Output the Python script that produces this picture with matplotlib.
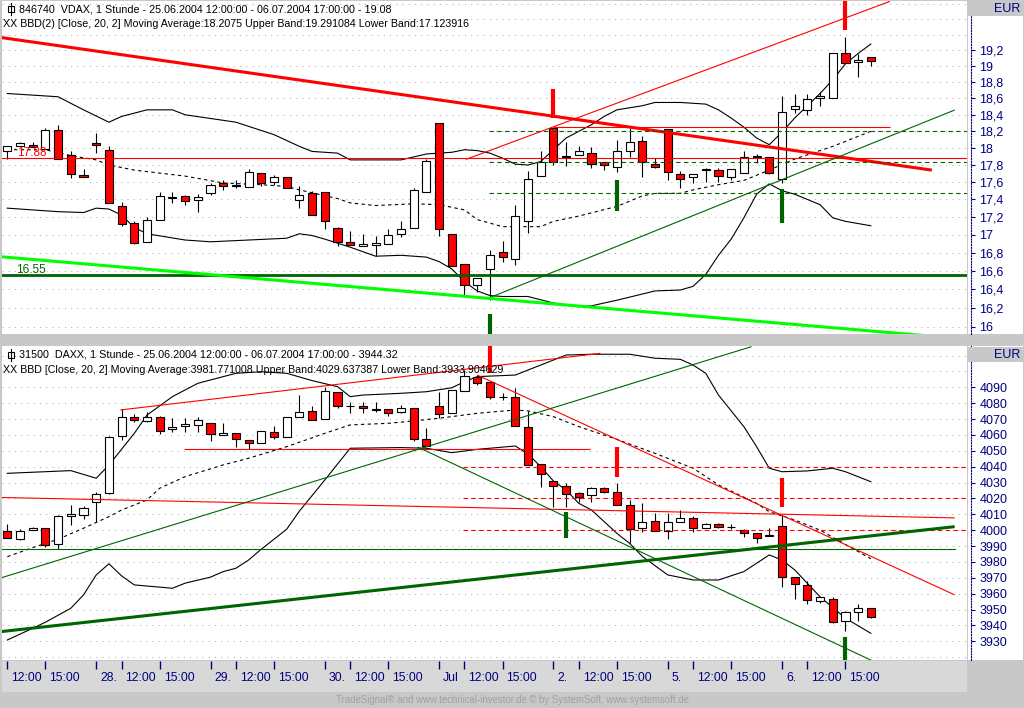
import numpy as np
import matplotlib.pyplot as plt
import matplotlib.transforms as mtransforms
from matplotlib.lines import Line2D
from matplotlib.patches import Rectangle
from matplotlib.ticker import NullLocator, NullFormatter

plt.rcParams['font.family'] = ['Liberation Sans', 'DejaVu Sans']

W, H = 1024, 708
NAVY = '#000080'
RED = '#ff0000'
DKGREEN = '#006400'
LIME = '#00ff00'

# ---- VDAX, hourly bars 25.06.2004 12:00 .. 06.07.2004 17:00 (69 bars)
vdax_open = [17.96, 18.03, 18.04, 17.99, 18.22, 17.92, 17.68, 18.06, 17.98, 17.33,
             17.13, 16.92, 17.16, 17.42, 17.44, 17.39, 17.47, 17.59, 17.56, 17.54,
             17.71, 17.60, 17.66, 17.39, 17.47, 17.48, 17.07, 16.92, 16.87, 16.88,
             16.89, 17.01, 17.07, 17.48, 18.30, 17.01, 16.67, 16.44, 16.62, 16.81,
             16.73, 17.15, 17.67, 18.24, 17.89, 17.92, 17.94, 17.83, 17.78, 17.96,
             18.09, 17.81, 18.23, 17.69, 17.66, 17.74, 17.74, 17.66, 17.71, 17.90,
             17.90, 17.64, 18.47, 18.46, 18.60, 18.60, 19.17, 19.05, 19.12]
vdax_high = [18.03, 18.07, 18.07, 18.24, 18.28, 17.96, 17.75, 18.18, 18.03, 17.37,
             17.15, 17.20, 17.49, 17.48, 17.45, 17.46, 17.59, 17.62, 17.62, 17.75,
             17.71, 17.68, 17.66, 17.55, 17.50, 17.48, 17.09, 17.04, 17.01, 16.98,
             17.06, 17.15, 17.53, 17.87, 18.30, 17.01, 16.67, 16.52, 16.83, 16.93,
             17.34, 17.73, 17.96, 18.24, 18.07, 18.03, 18.01, 17.83, 18.10, 18.24,
             18.14, 17.88, 18.23, 17.73, 17.69, 17.76, 17.76, 17.75, 17.96, 17.93,
             17.90, 18.63, 18.66, 18.65, 18.68, 19.17, 19.37, 19.15, 19.12]
vdax_low = [17.87, 18.03, 18.01, 17.99, 17.87, 17.65, 17.66, 17.94, 17.36, 17.10,
            16.89, 16.92, 17.16, 17.36, 17.34, 17.26, 17.45, 17.51, 17.53, 17.54,
            17.56, 17.57, 17.53, 17.30, 17.22, 17.06, 16.87, 16.88, 16.87, 16.76,
            16.89, 16.97, 17.07, 17.48, 16.98, 16.65, 16.34, 16.37, 16.28, 16.70,
            16.66, 17.02, 17.67, 17.80, 17.79, 17.92, 17.77, 17.74, 17.72, 17.90,
            17.66, 17.76, 17.62, 17.53, 17.59, 17.60, 17.60, 17.62, 17.71, 17.82,
            17.69, 17.59, 18.42, 18.40, 18.51, 18.60, 19.04, 18.87, 19.00]
vdax_close = [18.03, 18.06, 18.01, 18.21, 17.87, 17.69, 17.66, 18.04, 17.36, 17.12,
              16.91, 17.17, 17.44, 17.43, 17.38, 17.43, 17.57, 17.55, 17.57, 17.72,
              17.59, 17.66, 17.53, 17.45, 17.22, 17.15, 16.92, 16.88, 16.90, 16.91,
              17.00, 17.06, 17.51, 17.85, 17.06, 16.65, 16.44, 16.52, 16.77, 16.75,
              17.21, 17.64, 17.84, 17.83, 17.905, 17.96, 17.81, 17.80, 17.97, 18.07,
              17.84, 17.78, 17.72, 17.64, 17.69, 17.75, 17.67, 17.75, 17.90, 17.91,
              17.71, 18.43, 18.51, 18.59, 18.63, 19.17, 19.04, 19.08, 19.07]

# Bollinger bands (Close, 20, 2): bar index / value
vdax_upper_bar = [0, 4, 6, 8, 9, 11, 13, 14, 18, 19, 21, 23, 24, 26, 27, 31, 33, 35, 36, 37,
                  38, 39, 40, 41, 42, 43, 44, 46, 47, 48, 50, 51, 53, 55, 56, 57, 58, 59, 60, 61,
                  62, 63, 64, 65, 66, 67, 68]
vdax_upper = [18.66, 18.62, 18.46, 18.31, 18.38, 18.46, 18.46, 18.40, 18.31, 18.26,
              18.16, 18.02, 17.96, 17.94, 17.86, 17.86, 17.93, 17.95, 17.98, 17.97,
              17.94, 17.88, 17.81, 17.80, 17.84, 17.98, 18.12, 18.28, 18.38, 18.46,
              18.51, 18.55, 18.55, 18.53, 18.46, 18.36, 18.25, 18.12, 18.04, 18.19,
              18.36, 18.51, 18.66, 18.83, 19.03, 19.16, 19.28]
vdax_mid_bar = [0, 3, 5, 7, 8, 10, 14, 17, 20, 22, 23, 26, 27, 29, 32, 34, 36, 37, 39, 42,
                43, 45, 48, 50, 51, 53, 54, 56, 58, 60, 62, 65, 68]
vdax_mid = [17.98, 17.98, 17.91, 17.86, 17.80, 17.74, 17.67, 17.59, 17.57, 17.55,
            17.51, 17.41, 17.36, 17.33, 17.35, 17.34, 17.28, 17.17, 17.09, 17.09,
            17.15, 17.21, 17.32, 17.44, 17.47, 17.47, 17.51, 17.57, 17.62, 17.74,
            17.87, 18.02, 18.20]
vdax_lower_bar = [0, 4, 6, 7, 8, 9, 10, 11, 14, 16, 19, 22, 23, 24, 25, 27, 29, 31, 33, 34,
                  35, 36, 37, 38, 39, 41, 43, 45, 46, 48, 51, 53, 54, 55, 56, 57, 58, 59, 60, 61,
                  62, 64, 65, 66, 68]
vdax_lower = [17.30, 17.26, 17.25, 17.30, 17.29, 17.22, 17.08, 17.01, 16.94, 16.92,
              16.94, 16.96, 17.01, 16.99, 16.95, 16.86, 16.76, 16.77, 16.75, 16.70,
              16.62, 16.48, 16.38, 16.33, 16.32, 16.32, 16.25, 16.21, 16.22, 16.28,
              16.38, 16.39, 16.43, 16.56, 16.77, 16.95, 17.19, 17.46, 17.58, 17.50,
              17.46, 17.34, 17.19, 17.15, 17.10]

# hand drawn lines on the VDAX panel: [bar0, value0, bar1, value1]
vdax_red_trend = [-0.6, 19.365, 72.8, 17.74]
vdax_red_channel = [36.1, 17.865, 69.5, 19.83]
vdax_red_resist = [43, 18.25, 69.5, 18.25]
vdax_red_level = 17.88
vdax_green_dashed = [18.20, 17.83, 17.47]
vdax_green_trend = [37.85, 16.30, 74.6, 18.458]
vdax_support = 16.55
vdax_lime_trend = [-0.6, 16.755, 72.65, 15.90]
vdax_red_marks = [(43, 18.36, 18.72), (66, 19.46, 19.95)]
vdax_green_marks = [(38, 15.85, 16.13), (48, 17.27, 17.63), (61, 17.13, 17.52)]

# ---- DAXX, same bars
daxx_open = [3999.5, 3994.4, 3999.9, 4001.2, 3991.1, 4009.0, 4009.8, 4017.6, 4023.6, 4059.5,
             4071.5, 4069.0, 4071.1, 4063.5, 4065.7, 4066.3, 4067.3, 4060.0, 4061.0, 4056.8,
             4054.7, 4061.7, 4058.9, 4071.1, 4075.1, 4069.8, 4087.2, 4078.0, 4078.2, 4075.9,
             4076.3, 4074.3, 4076.8, 4057.2, 4078.2, 4074.0, 4087.7, 4096.3, 4093.1, 4083.7,
             4083.7, 4064.8, 4041.5, 4031.0, 4028.0, 4023.2, 4022.2, 4026.6, 4024.2, 4015.9,
             4001.2, 4006.0, 3999.5, 4005.0, 4007.5, 4001.2, 4003.7, 4001.9, 3999.9, 3998.0,
             3996.6, 4002.6, 3970.7, 3965.5, 3955.6, 3956.9, 3942.8, 3948.3, 3950.8]
daxx_high = [4003.9, 4000.5, 4002.0, 4001.2, 4009.5, 4015.9, 4015.2, 4024.2, 4059.5, 4076.1,
             4073.2, 4074.6, 4071.9, 4070.5, 4070.9, 4071.1, 4067.3, 4067.3, 4061.0, 4056.8,
             4062.5, 4065.6, 4071.1, 4085.1, 4078.2, 4090.4, 4087.2, 4080.9, 4080.9, 4080.9,
             4076.3, 4078.8, 4076.8, 4064.2, 4087.2, 4088.3, 4100.9, 4097.8, 4093.1, 4086.2,
             4089.4, 4075.1, 4041.5, 4031.0, 4029.5, 4024.2, 4027.4, 4027.4, 4029.5, 4019.0,
             4016.9, 4010.6, 4010.6, 4012.7, 4009.0, 4004.2, 4004.2, 4003.9, 4000.6, 3998.0,
             4001.2, 4009.6, 3970.7, 3968.0, 3958.1, 3958.1, 3949.1, 3953.5, 3950.8]
daxx_low = [3994.9, 3993.5, 3999.9, 3989.6, 3988.0, 4003.3, 4006.8, 4005.3, 4023.0, 4056.8,
            4068.2, 4068.3, 4060.6, 4062.0, 4062.0, 4062.0, 4056.4, 4060.0, 4052.6, 4050.9,
            4054.7, 4057.2, 4058.9, 4071.1, 4069.4, 4069.8, 4077.1, 4073.6, 4073.6, 4074.6,
            4071.9, 4073.6, 4056.4, 4053.0, 4070.5, 4074.0, 4087.7, 4091.5, 4082.4, 4082.0,
            4065.6, 4040.9, 4027.4, 4014.8, 4014.8, 4018.0, 4018.0, 4023.2, 4015.9, 3991.7,
            3998.7, 3999.7, 3994.3, 4005.0, 3999.0, 4001.2, 4001.5, 4000.6, 3995.9, 3992.1,
            3996.3, 3964.0, 3956.9, 3953.3, 3954.2, 3941.5, 3936.7, 3943.0, 3944.5]
daxx_close = [3994.9, 3999.7, 4001.2, 3990.7, 4009.0, 4010.2, 4013.8, 4022.8, 4058.9, 4071.1,
              4069.4, 4071.1, 4062.7, 4064.8, 4067.0, 4069.2, 4060.6, 4061.0, 4057.2, 4054.7,
              4062.5, 4058.9, 4071.1, 4074.3, 4069.4, 4087.9, 4078.2, 4078.4, 4076.8, 4076.1,
              4073.6, 4076.8, 4057.2, 4053.0, 4073.0, 4088.3, 4097.1, 4092.9, 4083.9, 4084.1,
              4065.6, 4040.9, 4035.2, 4028.0, 4022.8, 4020.7, 4026.4, 4024.2, 4015.9, 4000.6,
              4005.0, 3999.7, 4005.3, 4007.5, 4001.2, 4003.7, 4001.8, 4002.1, 3998.0, 3995.3,
              3996.8, 3970.7, 3965.9, 3956.0, 3958.1, 3942.3, 3948.3, 3950.8, 3945.1]

daxx_upper_bar = [0, 5, 7, 8, 10, 11, 13, 15, 18, 20, 22, 24, 26, 27, 28, 31, 33, 35, 36, 37,
                  40, 44, 46, 49, 51, 53, 54, 55, 56, 58, 59, 60, 61, 63, 65, 66, 68]
daxx_upper = [4035.8, 4037.5, 4032.7, 4041.0, 4061.0, 4072.5, 4084.1, 4092.5, 4098.8, 4099.8,
              4098.8, 4094.2, 4090.4, 4084.1, 4085.1, 4086.2, 4087.2, 4089.7, 4093.5, 4096.7,
              4097.7, 4110.3, 4110.8, 4110.8, 4108.3, 4107.6, 4104.0, 4098.8, 4085.1, 4065.2,
              4052.6, 4039.0, 4036.8, 4037.3, 4039.0, 4036.8, 4030.5]
daxx_mid_bar = [0, 2, 4, 6, 8, 9, 11, 12, 14, 17, 19, 22, 25, 27, 30, 32, 34, 37, 40, 41,
                43, 45, 48, 51, 54, 56, 59, 60, 62, 64, 66, 68]
daxx_mid = [3983.3, 3989.0, 3994.3, 4001.2, 4008.5, 4012.7, 4019.0, 4026.4, 4033.7, 4041.1,
            4045.3, 4052.6, 4061.0, 4066.3, 4067.3, 4068.8, 4070.5, 4073.6, 4075.7, 4075.1,
            4071.5, 4065.2, 4057.2, 4048.4, 4039.0, 4028.5, 4016.9, 4011.6, 4006.4, 4000.0,
            3991.0, 3982.0]
daxx_lower_bar = [0, 2, 3, 5, 6, 7, 8, 9, 10, 13, 14, 16, 17, 18, 19, 20, 22, 23, 25, 27,
                  31, 33, 35, 37, 40, 41, 42, 43, 44, 45, 46, 48, 49, 50, 52, 54, 56, 58, 60, 61,
                  62, 64, 66, 68]
daxx_lower = [3930.8, 3938.2, 3942.0, 3950.8, 3959.2, 3971.8, 3978.8, 3971.2, 3965.5, 3963.4,
              3966.6, 3970.4, 3973.9, 3976.0, 3981.2, 3988.0, 4000.6, 4012.0, 4031.6, 4051.6,
              4052.0, 4051.6, 4048.8, 4050.9, 4053.0, 4048.0, 4040.0, 4031.0, 4025.3, 4016.9,
              4012.7, 3998.0, 3991.7, 3983.5, 3971.8, 3968.6, 3968.6, 3973.9, 3984.4, 3981.2,
              3975.0, 3958.0, 3944.5, 3935.0]

daxx_red_channel = [8.9, 4075.7, 46.7, 4111.4]
daxx_red_level = [13.9, 4051.0, 45.9, 4051.0]
daxx_red_long = [-0.6, 4020.6, 74.6, 4007.7]
daxx_red_down = [37.0, 4097.7, 74.6, 3959.2]
daxx_red_dashed = [4040, 4020, 4000]
daxx_green_up = [-0.6, 3969.7, 58.6, 4115.6]
daxx_green_down = [32.3, 4052.4, 68.3, 3917.0]
daxx_green_thick = [-0.6, 3936.0, 74.6, 4002.2]
daxx_green_level = 3988.0
daxx_red_marks = [(38, 4099.0, 4118.0), (48, 4033.7, 4052.6), (61, 4014.8, 4032.7)]
daxx_green_marks = [(44, 3994.9, 4011.6), (66, 3916.0, 3932.9)]

# time axis
tick_bars = [0, 3, 7, 9, 12, 16, 18, 21, 25, 27, 30, 34, 36, 39, 43, 45, 48, 52, 54, 57,
             61, 63, 66]
tick_labels = ['12:00', '15:00', '28.', '12:00', '15:00', '29.', '12:00', '15:00', '30.',
               '12:00', '15:00', 'Jul', '12:00', '15:00', '2.', '12:00', '15:00', '5.',
               '12:00', '15:00', '6.', '12:00', '15:00']

vdax_ticks = [16.0, 16.2, 16.4, 16.6, 16.8, 17.0, 17.2, 17.4, 17.6, 17.8, 18.0, 18.2,
              18.4, 18.6, 18.8, 19.0, 19.2]
vdax_grid = vdax_ticks + [19.4, 19.6, 19.8]
daxx_ticks = [3930, 3940, 3950, 3960, 3970, 3980, 3990, 4000, 4010, 4020, 4030, 4040,
              4050, 4060, 4070, 4080, 4090]
daxx_grid = [3920] + daxx_ticks + [4100, 4110]

XMIN, XMAX = -0.42, 75.57


def px_box(x0, y0, x1, y1):
    # figure rect from a pixel box measured from the top-left corner
    return [x0 / W, 1 - y1 / H, (x1 - x0) / W, (y1 - y0) / H]


def draw_candles(ax, o, h, l, c):
    o, h, l, c = (np.asarray(a, float) for a in (o, h, l, c))
    x = np.arange(len(o))
    up = c >= o
    ax.vlines(x, l, h, color='black', lw=0.8, zorder=3)
    ax.bar(x[up], (c - o)[up], bottom=o[up], width=0.64, color='white',
           edgecolor='black', lw=0.8, zorder=4)
    ax.bar(x[~up], (o - c)[~up], bottom=c[~up], width=0.64, color=RED,
           edgecolor='black', lw=0.8, zorder=4)


def seg(ax, line, **kw):
    ax.plot([line[0], line[2]], [line[1], line[3]], solid_capstyle='butt', zorder=5, **kw)


def marks(ax, items, color):
    for b, lo, hi in items:
        ax.vlines(b, lo, hi, color=color, lw=3, zorder=6)


def style_price_axis(ax, ticks, labels, grid):
    ax.set_xlim(XMIN, XMAX)
    ax.set_xticks([])
    ax.set_yticks(ticks)
    ax.set_yticklabels(labels)
    ax.yaxis.set_minor_locator(NullLocator())
    ax.yaxis.set_minor_formatter(NullFormatter())
    ax.yaxis.tick_right()
    ax.tick_params(axis='y', direction='out', length=3, width=0.8, colors=NAVY,
                   labelsize=9, pad=3)
    for name, s in ax.spines.items():
        s.set_visible(name == 'right')
    ax.spines['right'].set_position(('outward', 3))
    ax.spines['right'].set_linestyle((0, (1, 1.5)))
    ax.spines['right'].set_color(NAVY)
    for v in grid:
        ax.axhline(v, color='#b0b0b0', lw=0.75, ls=(0, (1, 5)), zorder=0)


fig = plt.figure(figsize=(W / 100, H / 100), dpi=100, facecolor='#c8c8c8')

# white columns behind the price scales
for y0, y1 in [(1, 334), (346, 660)]:
    col = fig.add_axes(px_box(968, y0, 1023, y1), facecolor='white')
    col.set_xticks([])
    col.set_yticks([])
    for s in col.spines.values():
        s.set_visible(False)

ax1 = fig.add_axes(px_box(2, 1, 967, 334), facecolor='white')
ax2 = fig.add_axes(px_box(2, 346, 967, 660), facecolor='white')

# ---- top panel
ax1.set_yscale('log')
ax1.set_ylim(15.921, 19.835)
style_price_axis(ax1, vdax_ticks,
                 [('%.1f' % v).replace('.0', '').replace('.', ',') for v in vdax_ticks],
                 vdax_grid)
ax1.plot(vdax_upper_bar, vdax_upper, color='black', lw=0.8, zorder=2)
ax1.plot(vdax_lower_bar, vdax_lower, color='black', lw=0.8, zorder=2)
ax1.plot(vdax_mid_bar, vdax_mid, color='black', lw=0.8, ls=(0, (3, 3)), zorder=2)
draw_candles(ax1, vdax_open, vdax_high, vdax_low, vdax_close)

seg(ax1, vdax_red_trend, color=RED, lw=2.2)
seg(ax1, vdax_red_channel, color=RED, lw=0.8)
seg(ax1, vdax_red_resist, color=RED, lw=0.8)
ax1.axhline(vdax_red_level, color=RED, lw=0.8, zorder=5)
for v in vdax_green_dashed:
    ax1.plot([37.9, XMAX], [v, v], color=DKGREEN, lw=0.8, ls=(0, (4, 3)), zorder=5)
seg(ax1, vdax_green_trend, color=DKGREEN, lw=0.8)
ax1.axhline(vdax_support, color=DKGREEN, lw=2.0, zorder=5)
seg(ax1, vdax_lime_trend, color=LIME, lw=2.2)
marks(ax1, vdax_red_marks, RED)
marks(ax1, vdax_green_marks, DKGREEN)
up2 = mtransforms.offset_copy(ax1.transData, fig=fig, x=0, y=2, units='dots')
ax1.text(0.75, vdax_red_level, '17.88', color=RED, fontsize=8.5, ha='left',
         va='baseline', transform=up2, zorder=7)
ax1.text(0.7, vdax_support, '16.55', color=DKGREEN, fontsize=8.5, ha='left',
         va='baseline', transform=up2, zorder=7)
ax1.set_ylim(15.921, 19.835)
ax1.set_xlim(XMIN, XMAX)

# ---- bottom panel
ax2.set_ylim(3918.2, 4116.0)
style_price_axis(ax2, daxx_ticks, [str(v) for v in daxx_ticks], daxx_grid)
ax2.plot(daxx_upper_bar, daxx_upper, color='black', lw=0.8, zorder=2)
ax2.plot(daxx_lower_bar, daxx_lower, color='black', lw=0.8, zorder=2)
ax2.plot(daxx_mid_bar, daxx_mid, color='black', lw=0.8, ls=(0, (3, 3)), zorder=2)
draw_candles(ax2, daxx_open, daxx_high, daxx_low, daxx_close)

seg(ax2, daxx_red_channel, color=RED, lw=0.8)
seg(ax2, daxx_red_level, color=RED, lw=0.8)
seg(ax2, daxx_red_long, color=RED, lw=0.8)
seg(ax2, daxx_red_down, color=RED, lw=0.8)
for v in daxx_red_dashed:
    ax2.plot([35.9, XMAX], [v, v], color=RED, lw=0.8, ls=(0, (4, 3)), zorder=5)
seg(ax2, daxx_green_up, color=DKGREEN, lw=0.8)
seg(ax2, daxx_green_down, color=DKGREEN, lw=0.8)
ax2.plot([XMIN, 74.6], [daxx_green_level] * 2, color=DKGREEN, lw=0.8, zorder=5)
seg(ax2, daxx_green_thick, color=DKGREEN, lw=2.2)
marks(ax2, daxx_red_marks, RED)
marks(ax2, daxx_green_marks, DKGREEN)
ax2.set_ylim(3918.2, 4116.0)
ax2.set_xlim(XMIN, XMAX)

# ---- time axis strip
axx = fig.add_axes(px_box(2, 661, 967, 692), facecolor='#d8d8d8')
axx.set_xlim(XMIN, XMAX)
axx.set_ylim(0, 1)
axx.set_yticks([])
axx.set_xticks(tick_bars)
axx.set_xticklabels([])
axx.xaxis.set_ticks_position('top')
axx.tick_params(axis='x', direction='in', length=6, width=1, colors=NAVY)
for s in axx.spines.values():
    s.set_visible(False)
shift = mtransforms.offset_copy(axx.get_xaxis_transform(), fig=fig, x=4, y=0, units='dots')
for b, lab in zip(tick_bars, tick_labels):
    axx.text(b, 0.45, lab, transform=shift, ha='left', va='center', color=NAVY, fontsize=8.8)

# ---- headers, scale boxes, footer
renderer = fig.canvas.get_renderer()


def fit_text(x, y, s, width, **kw):
    t = fig.text(x / W, 1 - y / H, s, va='center', **kw)
    w = t.get_window_extent(renderer).width
    t.set_fontsize(t.get_fontsize() * width / w)
    return t


def header_icon(y):
    fig.add_artist(Rectangle((8 / W, 1 - (y + 3) / H), 6 / W, 6 / H, transform=fig.transFigure,
                             fill=False, edgecolor='black', lw=0.8))
    fig.add_artist(Line2D([11 / W, 11 / W], [1 - (y - 6) / H, 1 - (y + 6) / H],
                          transform=fig.transFigure, color='black', lw=0.8))


header_icon(9)
fit_text(19, 9, '846740  VDAX, 1 Stunde - 25.06.2004 12:00:00 - 06.07.2004 17:00:00 - 19.08',
         371, fontsize=8)
fit_text(3, 24, 'XX BBD(2) [Close, 20, 2] Moving Average:18.2075 Upper Band:19.291084 '
         'Lower Band:17.123916', 465, fontsize=8)
header_icon(355)
fit_text(19, 355, '31500  DAXX, 1 Stunde - 25.06.2004 12:00:00 - 06.07.2004 17:00:00 - 3944.32',
         377, fontsize=8)
fit_text(3, 370, 'XX BBD [Close, 20, 2] Moving Average:3981.771008 Upper Band:4029.637387 '
         'Lower Band:3933.904629', 500, fontsize=8)

for y0 in (1, 347):
    fig.add_artist(Rectangle((968 / W, 1 - (y0 + 15) / H), 56 / W, 15 / H,
                             transform=fig.transFigure, facecolor='#c8c8c8', edgecolor='none'))
    fig.text(1020 / W, 1 - (y0 + 8) / H, 'EUR', ha='right', va='center', color=NAVY,
             fontsize=9)

fit_text(336, 700, 'TradeSignal® and www.technical-investor.de © by SystemSoft, '
         'www.systemsoft.de', 352, fontsize=7, color='#a0a0a0')

fig.savefig('out.png', dpi=100, facecolor=fig.get_facecolor())
